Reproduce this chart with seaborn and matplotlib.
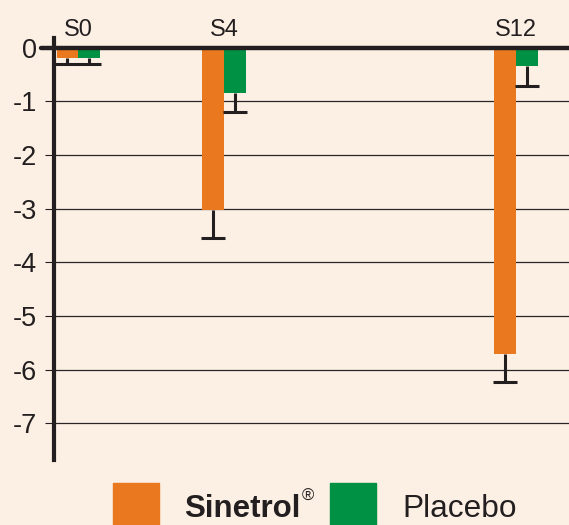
import pandas as pd
import matplotlib.pyplot as plt
import seaborn as sns
from matplotlib.patches import Rectangle

# Chart values
weeks = [0, 4, 12]
week_labels = ['S0', 'S4', 'S12']
groups = ['Sinetrol', 'Placebo']
sinetrol = [-0.19, -3.02, -5.70]
sinetrol_err = [0.11, 0.53, 0.52]
placebo = [-0.19, -0.84, -0.35]
placebo_err = [0.11, 0.37, 0.37]

# Colours
bg = '#FCF0E4'
orange = '#E9781E'
green = '#009145'
ink = '#231F20'

df = pd.DataFrame({
    'week': weeks * 2,
    'group': [groups[0]] * 3 + [groups[1]] * 3,
    'value': sinetrol + placebo,
})

sns.set_style('white')
plt.rcParams['font.family'] = ['Liberation Sans', 'DejaVu Sans']

fig = plt.figure(figsize=(5.69, 5.25), dpi=100, facecolor=bg)
ax = fig.add_axes([54 / 569, 1 - 460 / 525, 1 - 54 / 569, (460 - 38) / 525])
ax.set_facecolor(bg)

sns.barplot(data=df, x='week', y='value', hue='group', hue_order=groups,
            palette=[orange, green], native_scale=True, width=0.3,
            errorbar=None, saturation=1, linewidth=0, legend=False,
            zorder=3, ax=ax)

# downward error bars, placed on the centre of each bar
for cont, errs in zip(ax.containers, [sinetrol_err, placebo_err]):
    xs = [b.get_x() + b.get_width() / 2 for b in cont]
    ys = [b.get_height() for b in cont]
    eb = ax.errorbar(xs, ys, yerr=[errs, [0] * len(errs)], fmt='none',
                     ecolor=ink, elinewidth=2.2, capsize=8.3, capthick=2.2,
                     zorder=4)
    # keep only the lower cap
    eb[1][1].remove()

ax.set_xlim(-0.67, 13.45)
ax.set_ylim(-7.68, 0.177)
ax.set_yticks(range(-7, 1))
ax.set_yticklabels([str(v) for v in range(-7, 1)], fontsize=19.5, color=ink)
ax.set_xticks(weeks)
ax.set_xticklabels(week_labels, fontsize=17, color=ink)
ax.xaxis.tick_top()
ax.tick_params(axis='x', length=0, pad=-2)
ax.tick_params(axis='y', left=True, length=6.5, width=0.8, color=ink, pad=5.5)
ax.set_xlabel('')
ax.set_ylabel('')

ax.yaxis.grid(True, color='#2b2626', lw=0.9)
ax.set_axisbelow(True)
for side in ['top', 'right', 'bottom']:
    ax.spines[side].set_visible(False)
ax.spines['left'].set_linewidth(3)
ax.spines['left'].set_color(ink)
ax.spines['left'].set_zorder(5)
ax.axhline(0, xmin=-0.025, xmax=1, color=ink, lw=3.2, clip_on=False, zorder=5)

# legend along the bottom edge
fig.patches.append(Rectangle((113 / 569, -0.02), 46 / 569, 0.02 + 1 - 483 / 525,
                             transform=fig.transFigure, color=orange))
fig.patches.append(Rectangle((330 / 569, -0.02), 46 / 569, 0.02 + 1 - 483 / 525,
                             transform=fig.transFigure, color=green))
fig.text(184 / 569, 1 - 517 / 525, 'Sinetrol', fontsize=22.5, fontweight='bold',
         color=ink, va='baseline')
fig.text(302 / 569, 1 - 501 / 525, '®', fontsize=12, color=ink, va='baseline')
fig.text(402 / 569, 1 - 517 / 525, 'Placebo', fontsize=22.8, color=ink,
         va='baseline')

plt.savefig('out.png', dpi=100, facecolor=bg)
